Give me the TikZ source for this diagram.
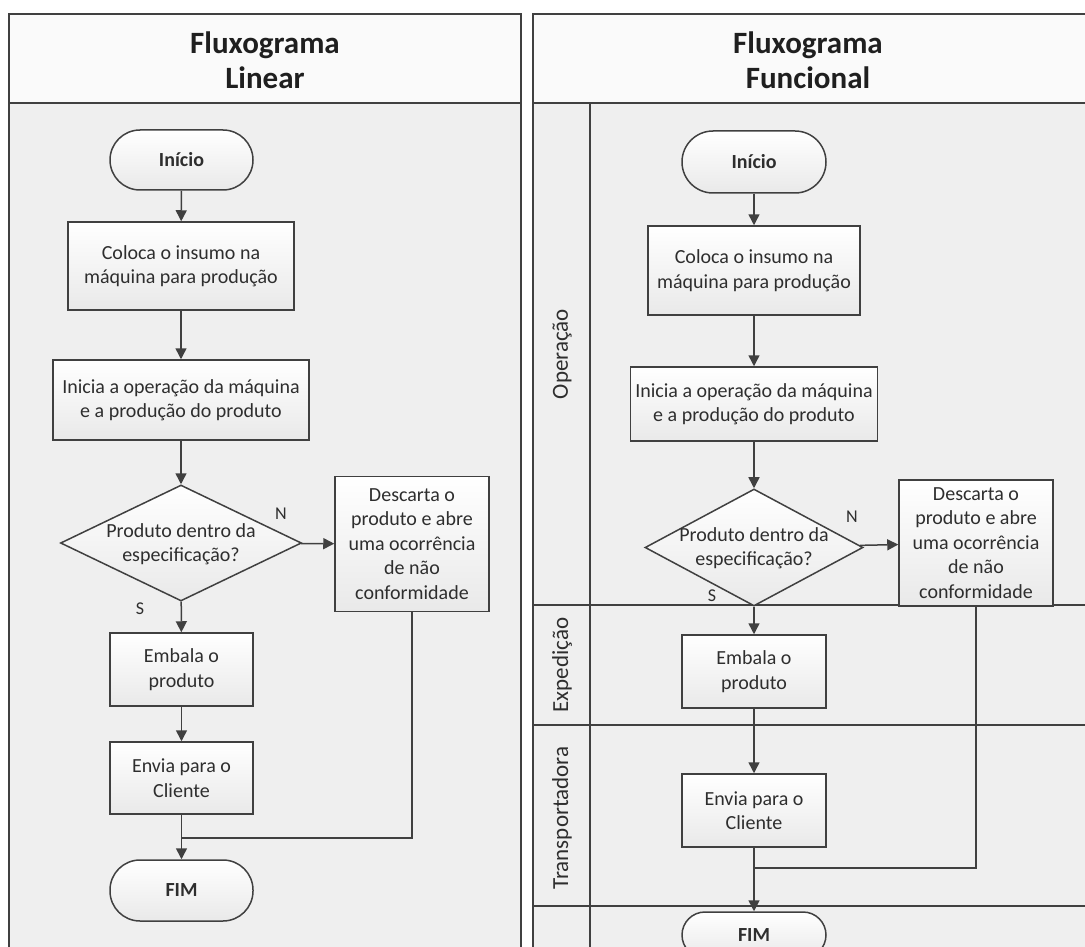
\documentclass[tikz,border=0pt]{standalone}
\usepackage{fontspec}
\setmainfont{Carlito}
\usetikzlibrary{arrows.meta,shapes.geometric}
\definecolor{linec}{HTML}{404040}
\definecolor{bgc}{HTML}{EFEFEF}
\definecolor{hdc}{HTML}{FAFAFA}
\definecolor{txt}{HTML}{2E2E2E}
\definecolor{boxb}{HTML}{E9E9E9}
\begin{document}
\begin{tikzpicture}[x=1pt,y=-1pt,
  frame/.style={draw=linec, line width=1.7pt},
  lane/.style={draw=linec, line width=1.5pt},
  box/.style={rectangle, draw=linec, line width=1.5pt, top color=white, bottom color=boxb,
    align=center, font=\fontsize{20}{24.5}\selectfont, text=txt, inner sep=0pt},
  term/.style={box, font=\fontsize{20}{24.5}\selectfont\bfseries},
  dia/.style={diamond, draw=linec, line width=1.5pt, top color=white, bottom color=boxb, inner sep=0pt, aspect=2},
  ttl/.style={align=center, font=\fontsize{31}{35}\selectfont\bfseries, text=black!88},
  txtn/.style={align=center, font=\fontsize{20}{24.5}\selectfont, text=txt, inner sep=0pt},
  lbl/.style={font=\fontsize{18}{20}\selectfont, text=txt, inner sep=0pt},
  lanelbl/.style={rotate=90, font=\fontsize{23}{26}\selectfont, text=txt, inner sep=0pt},
  arr/.style={draw=linec, line width=1.5pt, -{Triangle[length=11pt,width=11pt]}},
  con/.style={draw=linec, line width=1.5pt}]
\clip (0,0) rectangle (1085,947);
\fill[white] (0,0) rectangle (1085,947);
% ---------- left panel ----------
\fill[bgc] (9,14) rectangle (521,960);
\fill[hdc] (9,14) rectangle (521,103);
\draw[frame] (9,960) -- (9,14) -- (521,14) -- (521,960);
\draw[frame] (9,103) -- (521,103);
\node[ttl] (tL) at (265,60) {Fluxograma\\Linear};
% ---------- right panel ----------
\fill[bgc] (533,14) rectangle (1100,960);
\fill[hdc] (533,14) rectangle (1100,103);
\draw[frame] (533,960) -- (533,14) -- (1100,14);
\draw[frame] (533,103) -- (1100,103);
\node[ttl] (tR) at (808,60) {Fluxograma\\Funcional};
\draw[lane] (590,103) -- (590,960);
\draw[lane] (533,605) -- (1100,605);
\draw[lane] (533,725) -- (1100,725);
\draw[lane] (533,906) -- (1100,906);
\node[lanelbl] (lOp) at (562,354) {Operação};
\node[lanelbl] (lEx) at (562,665) {Expedição};
\node[lanelbl] (lTr) at (562,818) {Transportadora};
% ---------- left flow ----------
\node[term, minimum width=143pt, minimum height=60pt, rounded corners=30pt] (s1) at (181.5,160) {Início};
\node[box, minimum width=226pt, minimum height=88pt] (c1) at (181,266) {Coloca o insumo na\\máquina para produção};
\node[box, minimum width=256pt, minimum height=80pt] (i1) at (181,400) {Inicia a operação da máquina\\e a produção do produto};
\node[dia, minimum width=241pt, minimum height=116pt] (d1) at (181,543) {};
\node[txtn] (d1t) at (181,544) {Produto dentro da\\especificação?};
\node[box, minimum width=154pt, minimum height=135pt] (x1) at (412,544) {Descarta o\\produto e abre\\uma ocorrência\\de não\\conformidade};
\node[box, minimum width=143pt, minimum height=73pt] (e1) at (181.5,669.5) {Embala o\\produto};
\node[box, minimum width=143pt, minimum height=72pt] (v1) at (181.5,778) {Envia para o\\Cliente};
\node[term, minimum width=143pt, minimum height=61pt, rounded corners=30pt] (f1) at (181.5,890.5) {FIM};
\node[lbl] (n1) at (281,514) {N};
\node[lbl] (y1) at (140,609) {S};
\coordinate (m1) at (181.5,838);
\draw[arr] (s1) -- (c1);
\draw[arr] (c1) -- (i1);
\draw[arr] (i1) -- (d1);
\draw[arr] (d1) -- (e1);
\draw[arr] (d1) -- (x1);
\draw[arr] (e1) -- (v1);
\draw[arr] (v1) -- (f1);
\draw[con] (x1.south) |- (m1);
% ---------- right flow ----------
\node[term, minimum width=144pt, minimum height=62pt, rounded corners=31pt] (s2) at (754,162) {Início};
\node[box, minimum width=212pt, minimum height=89pt] (c2) at (754,270.5) {Coloca o insumo na\\máquina para produção};
\node[box, minimum width=247pt, minimum height=74pt] (i2) at (754,404) {Inicia a operação da máquina\\e a produção do produto};
\node[dia, minimum width=218pt, minimum height=117pt] (d2) at (754,547.5) {};
\node[txtn] (d2t) at (754,548) {Produto dentro da\\especificação?};
\node[box, minimum width=154pt, minimum height=126pt] (x2) at (976,543) {Descarta o\\produto e abre\\uma ocorrência\\de não\\conformidade};
\node[box, minimum width=144pt, minimum height=73pt] (e2) at (754,671.5) {Embala o\\produto};
\node[box, minimum width=144pt, minimum height=73pt] (v2) at (754,810.5) {Envia para o\\Cliente};
\node[term, minimum width=144pt, minimum height=46pt, rounded corners=23pt] (f2) at (754,935) {FIM};
\node[lbl] (n2) at (852,517) {N};
\node[lbl] (y2) at (712,596) {S};
\coordinate (m2) at (754,868);
\draw[arr] (s2) -- (c2);
\draw[arr] (c2) -- (i2);
\draw[arr] (i2) -- (d2);
\draw[arr] (d2) -- (e2);
\draw[arr] (d2) -- (x2);
\draw[arr] (e2) -- (v2);
\draw[arr] (v2) -- (f2);
\draw[con] (x2.south) |- (m2);
\end{tikzpicture}
\end{document}
